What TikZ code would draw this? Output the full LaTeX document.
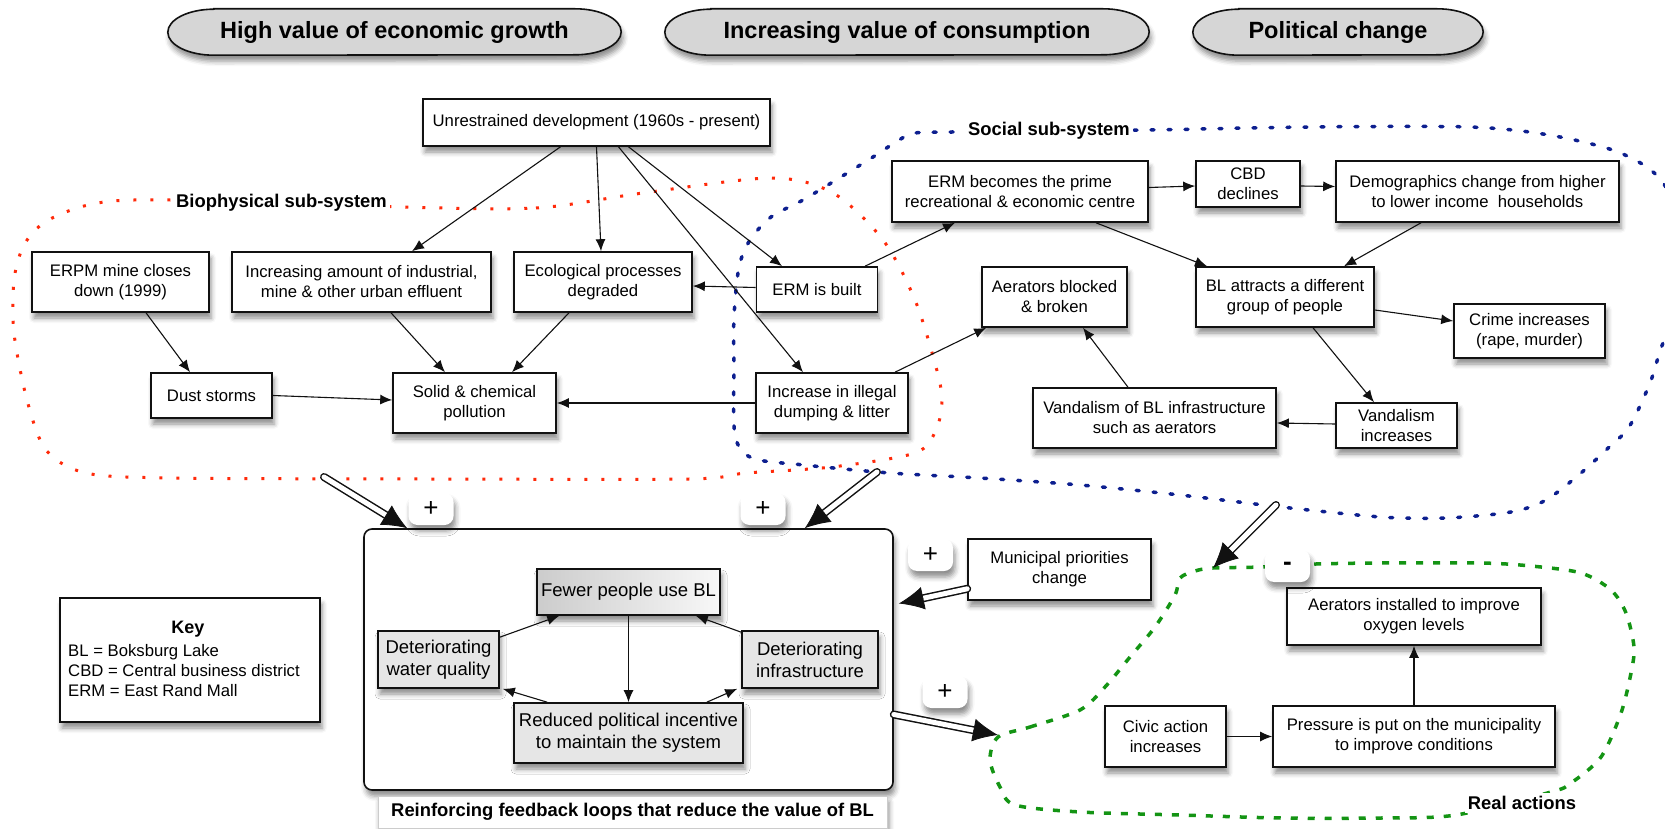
\documentclass[tikz,border=0pt]{standalone}
\usepackage{fontspec}
\setmainfont{Liberation Sans}
\usepackage{tikz}
\usetikzlibrary{positioning,arrows.meta,calc,shadows.blur}
\definecolor{ink}{HTML}{111111}
\definecolor{pillgrey}{HTML}{D6D6D6}
\definecolor{boxgrey}{HTML}{E6E6E6}
\definecolor{biored}{HTML}{FF2A0A}
\definecolor{socblue}{HTML}{0D1F8F}
\definecolor{realgreen}{HTML}{149414}
\newcommand{\bxfont}{\fontsize{16.7pt}{20pt}\selectfont}
\newcommand{\lpfont}{\fontsize{18.5pt}{22pt}\selectfont}
\newcommand{\lblfont}{\fontsize{18.4pt}{22pt}\selectfont\bfseries}
\tikzset{
  shd/.style={blur shadow={shadow xshift=2pt, shadow yshift=-6pt, shadow blur radius=5pt, shadow opacity=45}},
  bx/.style={draw=ink, line width=1.6pt, fill=white, align=center, inner sep=2pt, font=\bxfont, shd},
  lp/.style={bx, fill=boxgrey, font=\lpfont},
  pill/.style={minimum height=46pt, font=\fontsize{23.5pt}{26pt}\selectfont\bfseries},
  pillrim/.style={draw=ink, line width=1.6pt, fill=pillgrey, shd},
  badge/.style={fill=white, rounded corners=9pt, minimum width=45pt, minimum height=32pt, inner sep=0pt,
                font=\fontsize{26pt}{28pt}\selectfont, shd},
  sublbl/.style={fill=white, inner sep=3pt, font=\lblfont},
  ar/.style={-{Latex[length=12pt,width=10pt]}, line width=1.1pt, color=ink},
  dshaft/.style={draw=ink, line width=1.5pt, double=white, double distance=5pt, line cap=round},
  dhead/.style={-{Latex[length=25pt,width=23pt]}, line width=0.8pt, color=ink},
  bioloop/.style={draw=biored, line width=3pt, dash pattern=on 3pt off 14pt},
  socloop/.style={draw=socblue, line width=3.5pt, line cap=round, dash pattern=on 3pt off 14pt},
  realloop/.style={draw=realgreen, line width=3.5pt, dash pattern=on 7pt off 10pt},
}
\newcommand{\dblar}[2]{%
  \draw[dshaft] (#1) -- ($(#2)!20pt!(#1)$);
  \draw[dhead] ($(#2)!25pt!(#1)$) -- (#2);}
% pill with elliptic ends round a node
\newcommand{\pillrim}[1]{%
  \draw[pillrim] ([xshift=46pt]#1.north west) -- ([xshift=-46pt]#1.north east)
    arc[start angle=90, end angle=-90, x radius=46pt, y radius=23pt]
    -- ([xshift=46pt]#1.south west)
    arc[start angle=270, end angle=90, x radius=46pt, y radius=23pt] -- cycle;}

\begin{document}
\begin{tikzpicture}[x=1pt,y=-1pt]
\useasboundingbox (0,0) rectangle (1665,829);

% values on top
\node[pill, minimum width=453pt] (growth) at (394.5,32) {};
\node[pill, minimum width=484pt] (consume) at (907,32) {};
\node[pill, minimum width=290pt] (politics) at (1338,32) {};
\pillrim{growth} \pillrim{consume} \pillrim{politics}
\node[pill] at (growth) {High value of economic growth};
\node[pill] at (consume) {Increasing value of consumption};
\node[pill] at (politics) {Political change};

% sub-system loops
\draw[bioloop] plot[smooth cycle] coordinates {(402,207) (536,208) (643,193) (771,178) (833,193) (883,240)
  (915,300) (936,367) (942,400) (936,430) (915,453) (832,467) (746,473) (689,479) (430,479) (172,478)
  (86,473) (46,450) (27,400) (14,333) (14,280) (24,245) (45,222) (84,206) (134,200) (280,202)};
\draw[socloop] plot[smooth cycle] coordinates {(952,132) (1049,131) (1149,130) (1309,127) (1469,127)
  (1549,135) (1618,152) (1661,180) (1688,240) (1685,300) (1663,343) (1650,383) (1629,427) (1606,450)
  (1581,473) (1546,500) (1511,512) (1446,518) (1381,517) (1281,507) (1180,495) (1080,485) (980,478)
  (890,473) (804,465) (752,458) (735,435) (734,367) (734,317) (739,267) (750,240) (771,217) (803,200)
  (836,180) (873,157) (899,140) (915,133)};
\draw[realloop] plot[smooth cycle] coordinates {(998,737) (1030,727) (1080,710) (1105,687) (1130,657)
  (1155,627) (1175,595) (1180,578) (1195,571) (1213,568) (1261,567) (1316,564) (1381,563) (1481,563)
  (1531,566) (1581,573) (1611,590) (1626,613) (1634,647) (1631,673) (1621,713) (1601,757) (1571,783)
  (1551,792) (1456,815) (1381,818) (1281,818) (1180,815) (1080,812) (1015,805) (1000,787) (990,760)};
\node[sublbl] (biolbl) at (281.5,203) {Biophysical sub-system};
\node[sublbl] (soclbl) at (1049,131) {Social sub-system};
\node[sublbl] (reallbl) at (1522,803) {Real actions};

% biophysical
\node[bx, minimum width=347pt, minimum height=47pt] (unres) at (596.5,122.5) {Unrestrained development (1960s - present)};
\node[bx, minimum width=177pt, minimum height=60pt] (erpm) at (120.5,282) {ERPM mine closes\\down (1999)};
\node[bx, minimum width=259pt, minimum height=60pt] (eff) at (361.5,282) {Increasing amount of industrial,\\mine \& other urban effluent};
\node[bx, minimum width=178pt, minimum height=60pt] (eco) at (603,282) {Ecological processes\\degraded};
\node[bx, minimum width=121pt, minimum height=45pt] (erm) at (817,289.5) {ERM is built};
\node[bx, minimum width=121pt, minimum height=45pt] (dust) at (211.5,395.5) {Dust storms};
\node[bx, minimum width=163pt, minimum height=60pt] (solid) at (474.5,403) {Solid \& chemical\\pollution};
\node[bx, minimum width=152pt, minimum height=60pt] (dump) at (832,403) {Increase in illegal\\dumping \& litter};

% social
\node[bx, minimum width=256pt, minimum height=61pt] (ermc) at (1020,191.5) {ERM becomes the prime\\recreational \& economic centre};
\node[bx, minimum width=104pt, minimum height=46pt] (cbd) at (1248,184) {CBD\\declines};
\node[bx, minimum width=283pt, minimum height=61pt] (demo) at (1477.5,191.5) {Demographics change from higher\\to lower income\ \ households};
\node[bx, minimum width=145pt, minimum height=60pt] (aerb) at (1054.5,297) {Aerators blocked\\\& broken};
\node[bx, minimum width=178pt, minimum height=60pt] (bla) at (1285,297) {BL attracts a different\\group of people};
\node[bx, minimum width=151pt, minimum height=54pt] (crime) at (1529.5,331) {Crime increases\\(rape, murder)};
\node[bx, minimum width=243pt, minimum height=60pt] (vanbl) at (1154.5,418) {Vandalism of BL infrastructure\\such as aerators};
\node[bx, minimum width=121pt, minimum height=45pt] (vani) at (1396.5,425.5) {Vandalism\\increases};

% feedback loops
\node[bx, rounded corners=8pt, minimum width=529pt, minimum height=261pt] (loopbox) at (628.5,659.5) {};
\node[lp, minimum width=183pt, minimum height=46pt, left color=black!20, right color=black!3] (fewer) at (628.5,592) {Fewer people use BL};
\node[lp, minimum width=121pt, minimum height=57pt] (dwater) at (438.5,659.5) {Deteriorating\\water quality};
\node[lp, minimum width=136pt, minimum height=57pt] (dinfra) at (810,659.5) {Deteriorating\\infrastructure};
\node[lp, minimum width=229pt, minimum height=60pt] (reduced) at (628.5,733) {Reduced political incentive\\to maintain the system};
\node[fill=white, draw=black!20, minimum width=509pt, minimum height=32pt, inner sep=0pt, font=\lblfont, shd] (reinf) at (632.5,812) {Reinforcing feedback loops that reduce the value of BL};

% key
\node[bx, minimum width=260pt, minimum height=124pt] (key) at (190,660) {};
\node[font=\fontsize{18pt}{20pt}\selectfont\bfseries] (keyttl) at (188,629) {Key};
\node[font=\bxfont, align=left, anchor=west, inner sep=0pt] (keytxt) at (68,671) {BL = Boksburg Lake\\CBD = Central business district\\ERM = East Rand Mall};

% real actions
\node[bx, minimum width=183pt, minimum height=61pt] (muni) at (1059.5,569.5) {Municipal priorities\\change};
\node[bx, minimum width=254pt, minimum height=57pt] (aeri) at (1414,616.5) {Aerators installed to improve\\oxygen levels};
\node[bx, minimum width=121pt, minimum height=61pt] (civic) at (1165.5,736.5) {Civic action\\increases};
\node[bx, minimum width=282pt, minimum height=61pt] (press) at (1414,736.5) {Pressure is put on the municipality\\to improve conditions};

% arrows
\draw[ar] ([xshift=-36pt]unres.south) -- ([xshift=50.5pt]eff.north);
\draw[ar] (unres.south) -- ([xshift=-2pt]eco.north);
\draw[ar] ([xshift=32pt]unres.south) -- ([xshift=-35pt]erm.north);
\draw[ar] ([xshift=22pt]unres.south) -- ([xshift=-29pt]dump.north);
\draw[ar] ([xshift=25.5pt]erpm.south) -- ([xshift=-21.5pt]dust.north);
\draw[ar] ([xshift=29.5pt]eff.south) -- ([xshift=-29.5pt]solid.north);
\draw[ar] ([xshift=-34pt]eco.south) -- ([xshift=37.5pt]solid.north);
\draw[ar] (dust.east) -- ([yshift=3pt]solid.west);
\draw[ar] (dump.west) -- (solid.east);
\draw[ar] ([yshift=2pt]erm.west) -- ([yshift=-4pt]eco.east);
\draw[ar] ([xshift=48pt]erm.north) -- ([xshift=-65pt]ermc.south);
\draw[ar] ([xshift=63pt]dump.north) -- ([xshift=5pt]aerb.south west);
\draw[ar] ([yshift=4pt]ermc.east) -- ([yshift=-2pt]cbd.west);
\draw[ar] ([yshift=-2pt]cbd.east) -- ([yshift=5pt]demo.west);
\draw[ar] ([xshift=76pt]ermc.south) -- ([xshift=-78pt]bla.north);
\draw[ar] ([xshift=-56.5pt]demo.south) -- ([xshift=59pt]bla.north);
\draw[ar] ([yshift=-13pt]bla.east) -- ([yshift=10pt]crime.west);
\draw[ar] ([xshift=28pt]bla.south) -- ([xshift=-22.5pt]vani.north);
\draw[ar] ([yshift=1.5pt]vani.west) -- ([yshift=-5pt]vanbl.east);
\draw[ar] ([xshift=-26.5pt]vanbl.north) -- ([xshift=28.5pt]aerb.south);
\draw[ar] (fewer.south) -- (reduced.north);
\draw[ar] ([yshift=-7pt]dwater.north east) -- ([xshift=23pt]fewer.south west);
\draw[ar] ([yshift=-2pt]dinfra.north west) -- ([xshift=-25pt]fewer.south east);
\draw[ar] ([xshift=34pt]reduced.north west) -- ([xshift=3pt]dwater.south east);
\draw[ar] ([xshift=-37pt]reduced.north east) -- ([xshift=-4pt]dinfra.south west);
\draw[ar] (civic.east) -- (press.west);
\draw[ar] (press.north) -- (aeri.south);

% influences between sub-systems
\coordinate (bioout) at (324,477);
\coordinate (socout) at (877,472);
\coordinate (socdown) at (1276,505);
\coordinate (realtop) at (1213,568);
\coordinate (realin) at (998,735);
\coordinate (lbin) at ([xshift=44pt]loopbox.north west);
\coordinate (rbin) at ([xshift=-89pt]loopbox.north east);
\coordinate (muniout) at ([yshift=12pt]muni.south west);
\coordinate (muniin) at ([xshift=5pt,yshift=56pt]loopbox.east);
\coordinate (loopout) at ([yshift=-55pt]loopbox.east);
\dblar{bioout}{lbin}
\dblar{socout}{rbin}
\dblar{socdown}{realtop}
\dblar{muniout}{muniin}
\dblar{loopout}{realin}

\node[badge] (plusa) at (431,509) {+};
\node[badge] (plusb) at (763,509) {+};
\node[badge] (plusc) at (930.5,555) {+};
\node[badge] (plusd) at (945,692) {+};
\node[badge] (minus) at (1287.5,566) {\textbf{-}};
\end{tikzpicture}
\end{document}
